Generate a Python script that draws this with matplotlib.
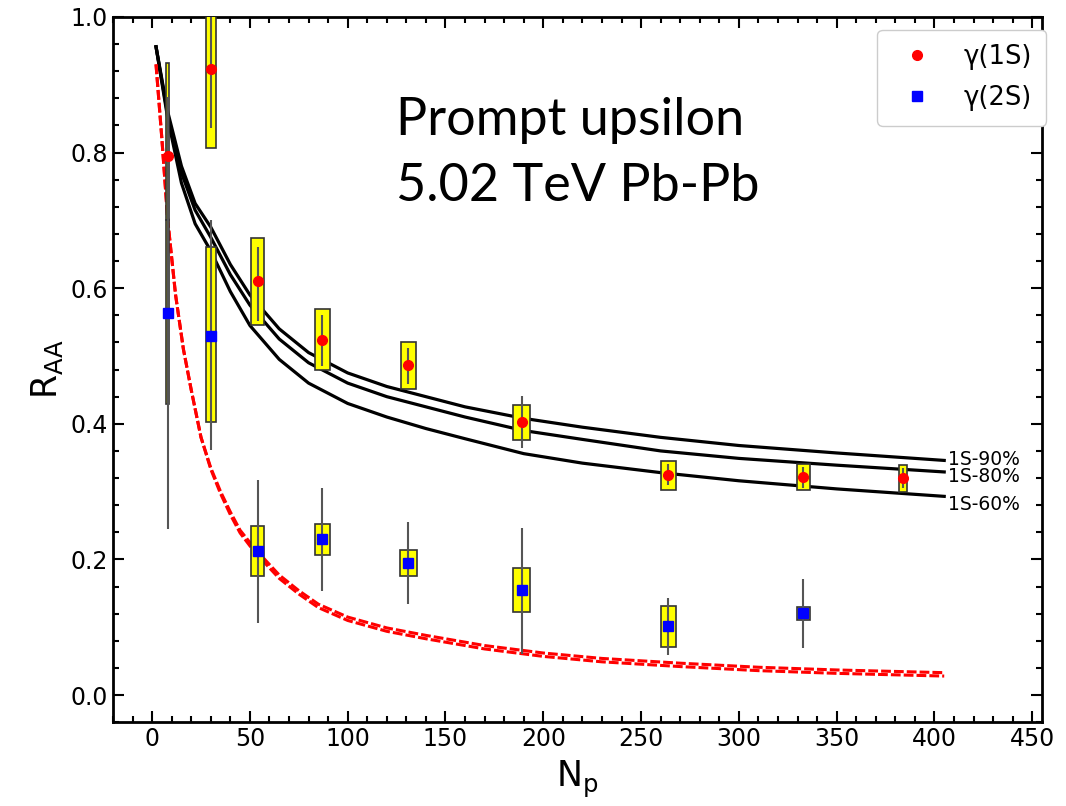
import numpy as np
import matplotlib
matplotlib.use('Agg')
import matplotlib.pyplot as plt
from matplotlib.ticker import MultipleLocator

# Upsilon(1S) data: Npart, RAA, stat err range, syst box range, box width
np_1s = [8, 30, 54, 87, 131, 189, 264, 333, 384]
raa_1s = [0.795, 0.923, 0.610, 0.524, 0.486, 0.402, 0.325, 0.321, 0.320]
stat_lo_1s = [0.700, 0.836, 0.551, 0.485, 0.459, 0.365, 0.310, 0.306, 0.305]
stat_hi_1s = [0.882, 1.010, 0.661, 0.560, 0.512, 0.441, 0.340, 0.336, 0.335]
box_lo_1s = [0.700, 0.807, 0.546, 0.480, 0.451, 0.376, 0.303, 0.302, 0.300]
box_hi_1s = [0.932, 1.040, 0.674, 0.570, 0.521, 0.428, 0.345, 0.340, 0.339]
box_w_1s = [1.6, 5.0, 6.5, 7.5, 8.0, 8.5, 8.0, 7.0, 4.0]

# Upsilon(2S) data
np_2s = [8, 30, 54, 87, 131, 189, 264, 333]
raa_2s = [0.564, 0.530, 0.212, 0.230, 0.194, 0.155, 0.102, 0.121]
stat_lo_2s = [0.245, 0.362, 0.106, 0.153, 0.135, 0.060, 0.059, 0.069]
stat_hi_2s = [0.880, 0.700, 0.317, 0.306, 0.255, 0.246, 0.143, 0.171]
box_lo_2s = [0.429, 0.402, 0.175, 0.206, 0.175, 0.122, 0.071, 0.111]
box_hi_2s = [0.700, 0.660, 0.249, 0.252, 0.214, 0.187, 0.132, 0.130]
box_w_2s = [1.6, 5.0, 6.5, 7.7, 8.5, 8.5, 8.0, 7.0]

# model curves for 1S
np_curve = [2, 8, 15, 22, 30, 40, 50, 65, 80, 100, 120, 140, 160, 190, 220, 260, 300, 350, 405]
curve_90 = [0.956, 0.86, 0.78, 0.725, 0.69, 0.635, 0.59, 0.54, 0.505, 0.475, 0.455, 0.44, 0.425,
            0.408, 0.395, 0.38, 0.368, 0.357, 0.346]
curve_80 = [0.956, 0.855, 0.77, 0.715, 0.675, 0.62, 0.575, 0.525, 0.49, 0.46, 0.44, 0.425, 0.41,
            0.39, 0.377, 0.36, 0.349, 0.339, 0.329]
curve_60 = [0.956, 0.85, 0.755, 0.695, 0.655, 0.595, 0.545, 0.495, 0.46, 0.43, 0.41, 0.393, 0.378,
            0.356, 0.342, 0.328, 0.316, 0.304, 0.293]
curve_labels = ['1S-90%', '1S-80%', '1S-60%']
label_y = [0.347, 0.322, 0.281]

# model curves for 2S (red dashed)
np_red = [2, 5, 8, 12, 16, 20, 25, 30, 35, 40, 45, 50, 55, 65, 75, 85, 100, 120, 140, 170,
          200, 230, 270, 310, 350, 405]
red_a = [0.93, 0.82, 0.70, 0.59, 0.51, 0.45, 0.38, 0.335, 0.30, 0.27, 0.243, 0.225, 0.208,
         0.177, 0.154, 0.134, 0.115, 0.099, 0.088, 0.073, 0.062, 0.054, 0.047, 0.041, 0.037, 0.033]
red_b = [0.93, 0.82, 0.70, 0.59, 0.51, 0.45, 0.38, 0.333, 0.297, 0.266, 0.239, 0.220, 0.203,
         0.172, 0.149, 0.129, 0.110, 0.094, 0.083, 0.068, 0.057, 0.049, 0.042, 0.036, 0.032, 0.028]

fig = plt.figure(figsize=(10.66, 8.06), dpi=100)
ax = fig.add_axes([0.106, 0.104, 0.8715, 0.875])

# curves
ax.plot(np_curve, curve_90, color='k', lw=2.3, zorder=2)
ax.plot(np_curve, curve_80, color='k', lw=2.3, zorder=2)
ax.plot(np_curve, curve_60, color='k', lw=2.3, zorder=2)
ax.plot(np_red, red_a, color='red', lw=2.2, ls=(0, (3.2, 1.0)), zorder=2)
ax.plot(np_red, red_b, color='red', lw=2.2, ls=(0, (3.2, 1.0)), zorder=2)

for ly, lab in zip(label_y, curve_labels):
    ax.text(np_curve[-1] + 2, ly, lab, fontsize=13.5, va='center', ha='left')

# systematic boxes
ax.bar(np_1s, np.array(box_hi_1s) - np.array(box_lo_1s), bottom=box_lo_1s, width=box_w_1s,
       color='yellow', edgecolor='#333333', lw=1.2, zorder=3)
ax.bar(np_2s, np.array(box_hi_2s) - np.array(box_lo_2s), bottom=box_lo_2s, width=box_w_2s,
       color='yellow', edgecolor='#333333', lw=1.2, zorder=3)

# statistical errors
ax.vlines(np_1s, stat_lo_1s, stat_hi_1s, color='#555555', lw=1.5, zorder=4)
ax.vlines(np_2s, stat_lo_2s, stat_hi_2s, color='#555555', lw=1.5, zorder=4)

# points
ax.plot(np_1s, raa_1s, 'o', color='red', ms=7, ls='none', zorder=5, label='γ(1S)')
ax.plot(np_2s, raa_2s, 's', color='blue', ms=7, ls='none', zorder=5, label='γ(2S)')

ax.text(0.305, 0.887, 'Prompt upsilon\n5.02 TeV Pb-Pb', transform=ax.transAxes,
        fontsize=37.5, family='Lato', va='top', ha='left', linespacing=1.5)

ax.set_xlim(-20, 455)
ax.set_ylim(-0.04, 1.0)
ax.xaxis.set_major_locator(MultipleLocator(50))
ax.xaxis.set_minor_locator(MultipleLocator(10))
ax.yaxis.set_major_locator(MultipleLocator(0.2))
ax.yaxis.set_minor_locator(MultipleLocator(0.04))
ax.tick_params(which='both', direction='in', top=True, right=True, width=1.5)
ax.tick_params(which='major', length=8, labelsize=17)
ax.tick_params(which='minor', length=4)
for s in ax.spines.values():
    s.set_linewidth(2)

ax.set_xlabel(r'N$_\mathregular{p}$', fontsize=25, labelpad=6)
ax.set_ylabel(r'R$_\mathregular{AA}$', fontsize=25)

ax.legend(loc='upper right', bbox_to_anchor=(1.0043, 0.9816), borderaxespad=0,
          fontsize=18.5, borderpad=0.55, handlelength=2.0, handletextpad=0.8,
          labelspacing=0.6, edgecolor='#cccccc', framealpha=1)

fig.savefig('out.png', dpi=100)
